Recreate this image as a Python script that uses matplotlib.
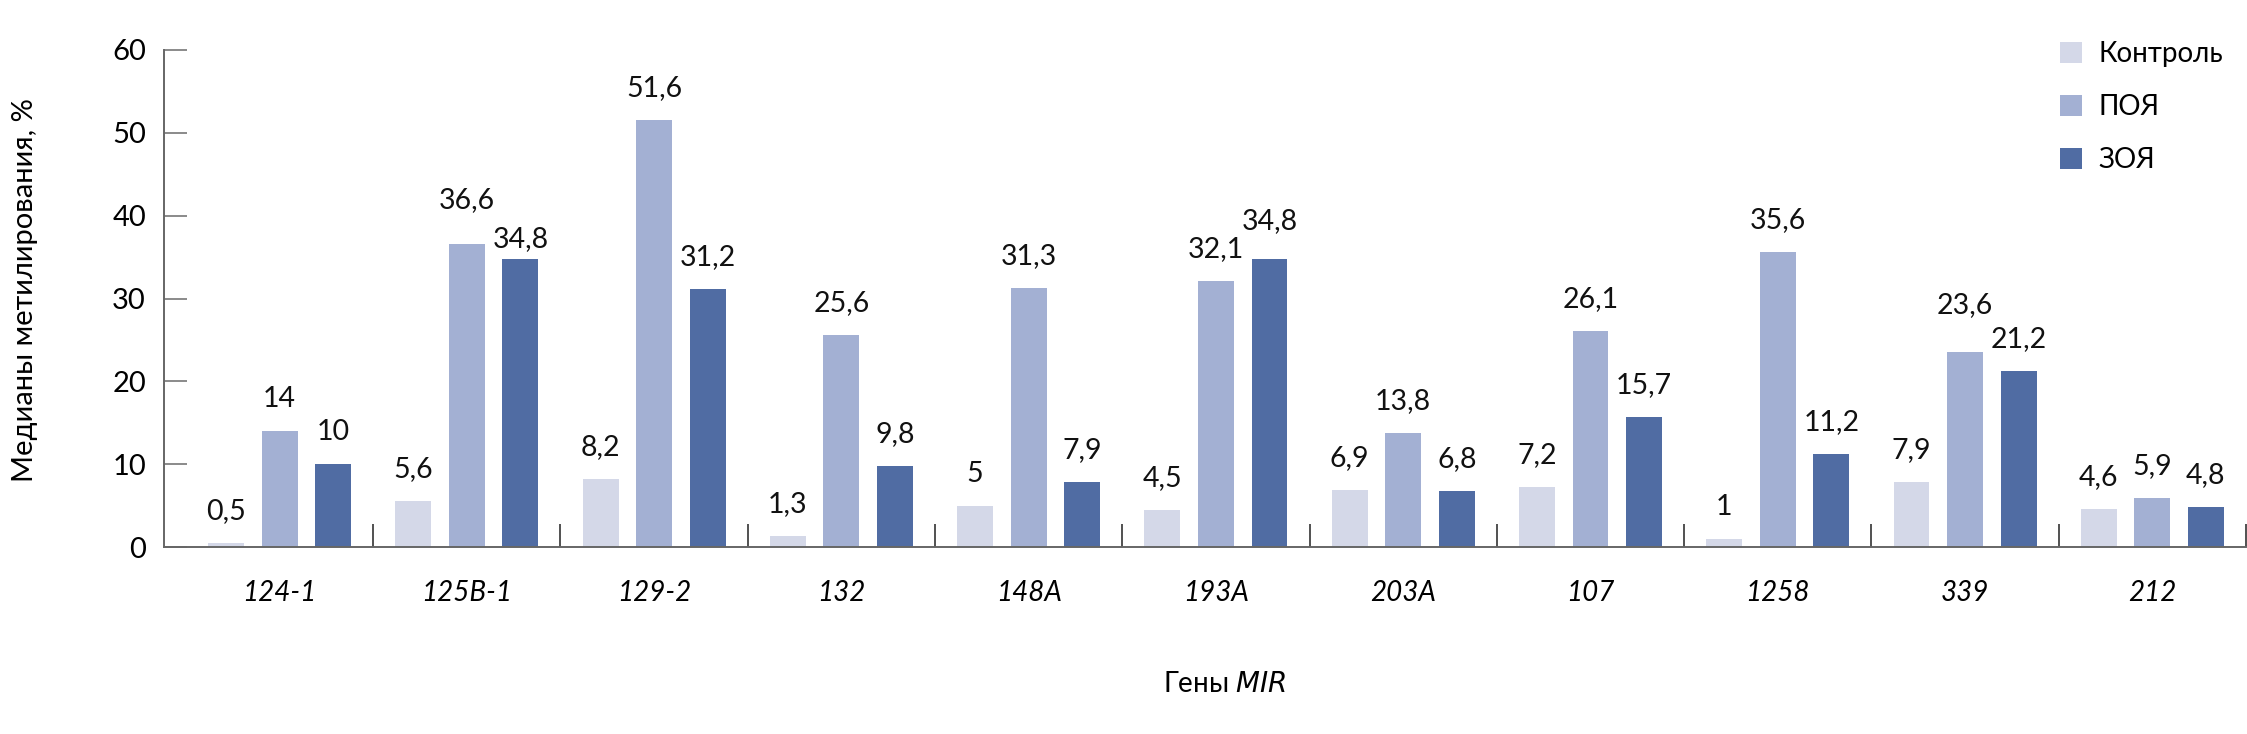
import matplotlib
matplotlib.use("Agg")
import matplotlib.pyplot as plt
import numpy as np

plt.rcParams['font.family'] = ['Lato', 'DejaVu Sans']

genes = ["124-1", "125B-1", "129-2", "132", "148A", "193A", "203A", "107", "1258", "339", "212"]
series_names = ["Контроль", "ПОЯ", "ЗОЯ"]
control = [0.5, 5.6, 8.2, 1.3, 5, 4.5, 6.9, 7.2, 1, 7.9, 4.6]
poya = [14, 36.6, 51.6, 25.6, 31.3, 32.1, 13.8, 26.1, 35.6, 23.6, 5.9]
zoya = [10, 34.8, 31.2, 9.8, 7.9, 34.8, 6.8, 15.7, 11.2, 21.2, 4.8]
colors = ["#D4D8E8", "#A3B0D3", "#506CA3"]

# extra vertical shift (px) of a few value labels, as in the reference
label_shift = {(1, 1): 12, (1, 2): -12, (9, 1): 14, (5, 2): 6}

W, H = 2247, 734
fig = plt.figure(figsize=(W / 100, H / 100), dpi=100)
ax = fig.add_axes([164 / W, (H - 547) / H, (2246 - 164) / W, (547 - 50) / H])

x = np.arange(len(genes))
width = 0.192
step = 0.286
for k, (vals, name, c) in enumerate(zip([control, poya, zoya], series_names, colors)):
    bars = ax.bar(x + (k - 1) * step, vals, width=width, color=c, label=name, zorder=2)
    for i, (b, v) in enumerate(zip(bars, vals)):
        dy = (24 + label_shift.get((i, k), 0)) * 0.72
        ax.annotate(f"{v:g}".replace(".", ","), (b.get_x() + b.get_width() / 2, v),
                    xytext=(0, dy), textcoords="offset points", ha="center", va="baseline",
                    fontsize=20.5, color="#111111")

ax.set_xlim(-0.617, 10.5)
ax.set_ylim(0, 60)
ax.set_yticks(np.arange(0, 61, 10))
ax.tick_params(axis="y", direction="in", length=16.5, width=1.2, color="#777777",
               labelsize=21, pad=13)
ax.set_xticks(x)
ax.set_xticklabels(genes, fontsize=20, style="italic")
ax.tick_params(axis="x", which="major", length=0, pad=24)
ax.set_xticks(np.arange(0.5, 10.6, 1), minor=True)
ax.tick_params(axis="x", which="minor", direction="in", length=16.5, width=1.2, color="#333333")

for s in ["top", "right"]:
    ax.spines[s].set_visible(False)
for s in ["left", "bottom"]:
    ax.spines[s].set_color("#666666")
    ax.spines[s].set_linewidth(1.4)

fig.text(25 / W, (H - 290) / H, "Медианы метилирования, %", rotation=90, ha="center",
         va="center", fontsize=21)
fig.text(1225 / W, (H - 684) / H, "Гены $\\it{MIR}$", ha="center", va="center", fontsize=20)

leg = ax.legend(loc="upper left", bbox_to_anchor=(2046 / W, (H - 27) / H),
                bbox_transform=fig.transFigure, frameon=False, fontsize=20,
                handlelength=0.8, handleheight=0.8, handletextpad=0.6, labelspacing=0.97,
                borderpad=0)

fig.savefig("out.png", dpi=100)
